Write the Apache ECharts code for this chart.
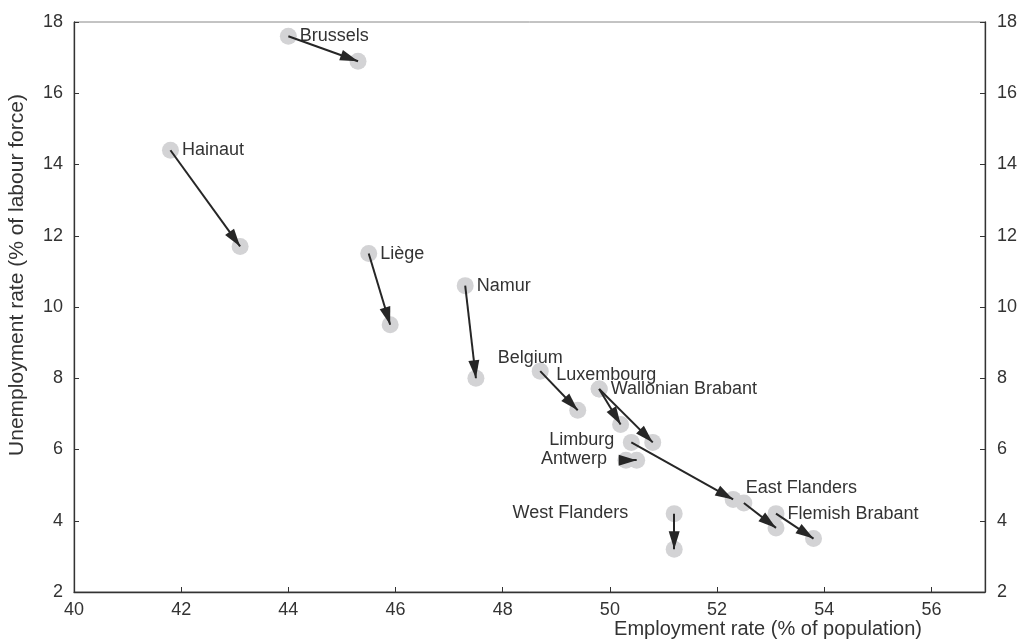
<!DOCTYPE html>
<html>
<head>
<meta charset="utf-8">
<script src="https://cdn.jsdelivr.net/npm/echarts@6/dist/echarts.min.js"></script>
<style>
  html, body { margin: 0; padding: 0; background: #fff; }
  #chart { width: 1020px; height: 640px; }
</style>
</head>
<body>
<div id="chart"></div>
<script>
// regions and their employment / unemployment rates (start -> end)
const regions = ['Brussels', 'Hainaut', 'Liège', 'Namur', 'Belgium', 'Luxembourg',
  'Wallonian Brabant', 'Limburg', 'Antwerp', 'East Flanders', 'Flemish Brabant', 'West Flanders'];
const empStart   = [44.0, 41.8, 45.5, 47.3, 48.7, 49.8, 49.8, 50.4, 50.3, 52.5, 53.1, 51.2];
const unempStart = [17.6, 14.4, 11.5, 10.6, 8.2, 7.7, 7.7, 6.2, 5.7, 4.5, 4.2, 4.2];
const empEnd     = [45.3, 43.1, 45.9, 47.5, 49.4, 50.2, 50.8, 52.3, 50.5, 53.1, 53.8, 51.2];
const unempEnd   = [16.9, 11.7, 9.5, 8.0, 7.1, 6.7, 6.2, 4.6, 5.7, 3.8, 3.5, 3.2];

const xTicks = [40, 42, 44, 46, 48, 50, 52, 54, 56];
const yTicks = [2, 4, 6, 8, 10, 12, 14, 16, 18];

// where each label sits relative to its start circle
const labelPlace = {
  'Brussels': ['right', [0, 0]],
  'Hainaut': ['right', [0, 0]],
  'Liège': ['right', [0, 0]],
  'Namur': ['right', [0, 0]],
  'Belgium': ['top', [-10, 7]],
  'Luxembourg': ['top', [7, 7]],
  'Wallonian Brabant': ['right', [0, 0]],
  'Limburg': ['left', [-5.5, -2]],
  'Antwerp': ['left', [-7.5, -1]],
  'East Flanders': ['right', [-9.5, -15]],
  'Flemish Brabant': ['right', [0, 0]],
  'West Flanders': ['left', [-34.5, -1]]
};

const font = "'Liberation Sans', Arial, Helvetica, sans-serif";
const txt = '#333';
// narrow arrow head, tip sitting on the end point
const arrowHead = 'path://M0,0M36,36M18,18L23.5,36L12.5,36Z';

let circles = [];
let arrows = [];
regions.forEach(function (name, i) {
  const p = labelPlace[name];
  circles.push({
    value: [empStart[i], unempStart[i]],
    label: { show: true, formatter: name, position: p[0], offset: p[1], distance: 3 }
  });
  circles.push({ value: [empEnd[i], unempEnd[i]], label: { show: false } });
  arrows.push({ coords: [[empStart[i], unempStart[i]], [empEnd[i], unempEnd[i]]] });
});

let myChart = echarts.init(document.getElementById('chart'));
let option = {
  animation: false,
  textStyle: { fontFamily: font },
  grid: { left: 74, right: 35, top: 22, bottom: 48, show: true, borderColor: '#888', borderWidth: 1,
    outerBoundsMode: 'none', containLabel: false },
  xAxis: {
    type: 'value', min: xTicks[0], max: 57, interval: 2,
    name: 'Employment rate (% of population)',
    nameLocation: 'end', nameGap: -63,
    nameTextStyle: { color: txt, fontSize: 20, align: 'right', verticalAlign: 'top', padding: [27, 0, 0, 0], fontFamily: font },
    axisLine: { lineStyle: { color: '#333', width: 1.3 } },
    axisTick: { inside: true, length: 5, lineStyle: { color: '#333' } },
    axisLabel: { color: txt, fontSize: 18, margin: 9, fontFamily: font,
      formatter: function (v) { return xTicks.indexOf(v) >= 0 ? v : ''; } },
    splitLine: { show: false }
  },
  yAxis: [{
    type: 'value', min: yTicks[0], max: 18, interval: 2,
    name: 'Unemployment rate (% of labour force)',
    nameLocation: 'middle', nameGap: 46,
    nameTextStyle: { color: txt, fontSize: 21, padding: [0, 0, 0, 64], fontFamily: font },
    axisLine: { show: true, lineStyle: { color: '#333', width: 1.3 } },
    axisTick: { show: true, inside: true, length: 5, lineStyle: { color: '#333' } },
    axisLabel: { color: txt, fontSize: 18, margin: 11, fontFamily: font },
    splitLine: { show: false }
  }, {
    type: 'value', min: yTicks[0], max: 18, interval: 2, position: 'right',
    axisLine: { show: true, lineStyle: { color: '#333', width: 1.3 } },
    axisTick: { show: true, inside: true, length: 5, lineStyle: { color: '#333' } },
    axisLabel: { color: txt, fontSize: 18, margin: 12, fontFamily: font },
    splitLine: { show: false }
  }],
  series: [{
    type: 'scatter',
    symbolSize: 17,
    itemStyle: { color: '#d3d3d5', opacity: 1 },
    label: { color: txt, fontSize: 18, fontFamily: font },
    data: circles,
    z: 2
  }, {
    type: 'lines',
    coordinateSystem: 'cartesian2d',
    symbol: ['none', arrowHead],
    symbolSize: 36,
    lineStyle: { color: '#262626', width: 2, opacity: 1 },
    itemStyle: { color: '#262626' },
    data: arrows,
    z: 3
  }]
};
myChart.setOption(option);
</script>
</body>
</html>
